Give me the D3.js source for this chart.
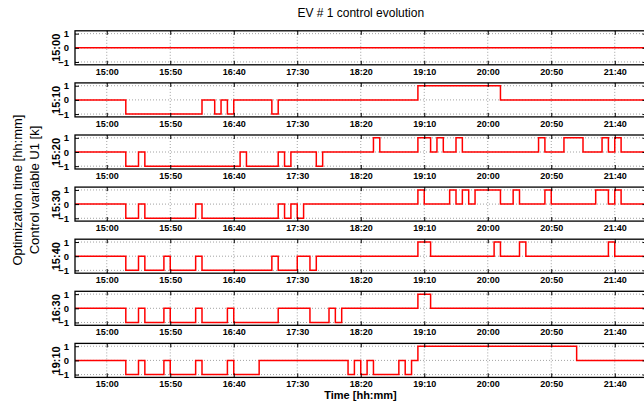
<!DOCTYPE html>
<html>
<head>
<meta charset="utf-8">
<script src="https://cdn.jsdelivr.net/npm/d3@7"></script>
<style>
  html, body { margin: 0; padding: 0; background: #fff; }
  svg { display: block; }
  text { font-family: "Liberation Sans", Arial, Helvetica, sans-serif; }
</style>
</head>
<body>
<svg id="chart" width="644" height="402"></svg>
<script>
// ---------------- DATA ----------------
const chartTitle = "EV # 1 control evolution";
const xAxisTitle = "Time [hh:mm]";
const yAxisTitle1 = "Optimization time [hh:mm]";
const yAxisTitle2 = "Control variable U1 [k]";

const panelLabels = ["15:00", "15:10", "15:20", "15:30", "15:40", "16:30", "19:10"];
const xTickLabels = ["15:00", "15:50", "16:40", "17:30", "18:20", "19:10", "20:00", "20:50", "21:40"];
const yTickValues = [-1, 0, 1];
const yTickLabels = ["\u22121", "0", "1"];
const timeStart = "14:35";
const timeEnd = "22:05";

// change points [time, value] of each control sequence (step function)
const u1_1500 = [["14:35", 0]];
const u1_1510 = [["14:35", 0], ["15:15", -1], ["16:15", 0], ["16:25", -1], ["16:30", 0], ["16:35", -1],
  ["16:40", 0], ["17:10", -1], ["17:15", 0], ["19:05", 1], ["20:10", 0]];
const u1_1520 = [["14:35", 0], ["15:15", -1], ["15:25", 0], ["15:30", -1], ["16:45", 0], ["16:50", -1],
  ["17:15", 0], ["17:20", -1], ["17:25", 0], ["17:45", -1], ["17:50", 0], ["18:30", 1], ["18:35", 0],
  ["19:05", 1], ["19:15", 0], ["19:20", 1], ["19:25", 0], ["19:35", 1], ["19:40", 0], ["20:40", 1],
  ["20:45", 0], ["21:00", 1], ["21:15", 0], ["21:30", 1], ["21:35", 0], ["21:40", 1], ["21:45", 0]];
const u1_1530 = [["14:35", 0], ["15:15", -1], ["15:25", 0], ["15:30", -1], ["16:10", 0], ["16:15", -1],
  ["17:15", 0], ["17:20", -1], ["17:25", 0], ["17:30", -1], ["17:35", 0], ["19:05", 1], ["19:10", 0],
  ["19:30", 1], ["19:35", 0], ["19:40", 1], ["19:45", 0], ["19:50", 1], ["20:10", 0], ["20:20", 1],
  ["20:25", 0], ["20:45", 1], ["20:50", 0], ["21:25", 1], ["21:35", 0], ["21:40", 1], ["21:45", 0]];
const u1_1540 = [["14:35", 0], ["15:15", -1], ["15:25", 0], ["15:30", -1], ["15:45", 0], ["15:50", -1],
  ["16:10", 0], ["16:15", -1], ["17:10", 0], ["17:15", -1], ["17:30", 0], ["17:40", -1], ["17:45", 0],
  ["19:05", 1], ["19:15", 0], ["20:05", 1], ["20:10", 0], ["20:25", 1], ["20:30", 0], ["21:35", 1], ["21:40", 0]];
const u1_1630 = [["14:35", 0], ["15:15", -1], ["15:25", 0], ["15:30", -1], ["15:45", 0], ["15:50", -1],
  ["16:10", 0], ["16:15", -1], ["16:35", 0], ["16:40", -1], ["17:15", 0], ["17:40", -1], ["17:55", 0],
  ["18:00", -1], ["18:05", 0], ["19:05", 1], ["19:15", 0]];
const u1_1910 = [["14:35", 0], ["15:15", -1], ["15:25", 0], ["15:30", -1], ["15:45", 0], ["15:50", -1],
  ["16:10", 0], ["16:15", -1], ["16:35", 0], ["16:40", -1], ["17:00", 0], ["18:10", -1], ["18:15", 0],
  ["18:20", -1], ["18:25", 0], ["18:30", -1], ["18:50", 0], ["18:55", -1], ["19:00", 0], ["19:05", 1], ["21:10", 0]];

const panelSeries = [u1_1500, u1_1510, u1_1520, u1_1530, u1_1540, u1_1630, u1_1910];

// ---------------- LAYOUT ----------------
const toMin = s => { const [h, m] = s.split(":").map(Number); return h * 60 + m; };
const W = 644, H = 402;
const left = 75, right = 646.5;
const firstTop = 30.8, step = 52.1, ph = 34;

const svg = d3.select("#chart");
const x = d3.scaleLinear().domain([toMin(timeStart), toMin(timeEnd)]).range([left, right]);
const tickVals = xTickLabels.map(toMin);

// Title
svg.append("text").attr("x", (left + right) / 2).attr("y", 16.5)
  .attr("text-anchor", "middle").attr("font-size", 12).attr("fill", "#000").text(chartTitle);

// y titles
const yMid = 190;
svg.append("text").attr("transform", `translate(21.5,${yMid}) rotate(-90)`)
  .attr("text-anchor", "middle").attr("font-size", 13).attr("fill", "#000").text(yAxisTitle1);
svg.append("text").attr("transform", `translate(38.5,${yMid}) rotate(-90)`)
  .attr("text-anchor", "middle").attr("font-size", 13).attr("fill", "#000").text(yAxisTitle2);

panelSeries.forEach((series, i) => {
  const top = firstTop + i * step, bottom = top + ph;
  const y = d3.scaleLinear().domain([-1.2, 1.2]).range([bottom, top]);
  const g = svg.append("g");
  const clipId = "clip" + i;
  g.append("clipPath").attr("id", clipId)
    .append("rect").attr("x", left).attr("y", top).attr("width", right - left).attr("height", ph);

  // grid
  const grid = g.append("g").attr("stroke", "#8a8a8a").attr("stroke-width", 0.8)
    .attr("stroke-dasharray", "1,2").attr("fill", "none");
  tickVals.forEach(v => grid.append("line").attr("x1", x(v)).attr("x2", x(v)).attr("y1", top).attr("y2", bottom));
  yTickValues.forEach(v => grid.append("line").attr("x1", left).attr("x2", right).attr("y1", y(v)).attr("y2", y(v)));

  // data line
  const pts = series.map(d => [toMin(d[0]), d[1]]);
  pts.push([toMin(timeEnd), pts[pts.length - 1][1]]);
  const line = d3.line().x(d => x(d[0])).y(d => y(d[1])).curve(d3.curveStepAfter);
  g.append("path").attr("d", line(pts)).attr("fill", "none").attr("stroke", "#ff0000")
    .attr("stroke-width", 1.5).attr("clip-path", `url(#${clipId})`);

  // axes (inward ticks)
  const bottomAxis = d3.axisBottom(x).tickValues(tickVals).tickFormat((d, k) => xTickLabels[k])
    .tickSizeInner(-4).tickSizeOuter(0).tickPadding(3.5);
  const ga = g.append("g").attr("transform", `translate(0,${bottom})`).call(bottomAxis);
  ga.select(".domain").remove();
  ga.selectAll("text").attr("font-size", 9).attr("font-weight", "bold")
    .attr("font-family", "'Liberation Sans', Arial, sans-serif").attr("fill", "#000");
  ga.selectAll("line").attr("stroke", "#000").attr("stroke-width", 1);

  const topAxis = d3.axisTop(x).tickValues(tickVals).tickFormat("").tickSizeInner(-4).tickSizeOuter(0);
  const gt = g.append("g").attr("transform", `translate(0,${top})`).call(topAxis);
  gt.select(".domain").remove();
  gt.selectAll("line").attr("stroke", "#000").attr("stroke-width", 1);

  const leftAxis = d3.axisLeft(y).tickValues(yTickValues).tickFormat((d, k) => yTickLabels[k])
    .tickSizeInner(-4).tickSizeOuter(0).tickPadding(6);
  const gl = g.append("g").attr("transform", `translate(${left},0)`).call(leftAxis);
  gl.select(".domain").remove();
  gl.selectAll("text").attr("font-size", 9.5).attr("font-weight", "bold")
    .attr("font-family", "'Liberation Sans', Arial, sans-serif").attr("fill", "#000");
  gl.selectAll("line").attr("stroke", "#000").attr("stroke-width", 1);

  const rightAxis = d3.axisRight(y).tickValues(yTickValues).tickFormat("").tickSizeInner(-4).tickSizeOuter(0);
  const gr = g.append("g").attr("transform", `translate(${right},0)`).call(rightAxis);
  gr.select(".domain").remove();
  gr.selectAll("line").attr("stroke", "#000").attr("stroke-width", 1);

  // box
  g.append("rect").attr("x", left).attr("y", top).attr("width", right - left).attr("height", ph)
    .attr("fill", "none").attr("stroke", "#000").attr("stroke-width", 1.3);

  // panel label
  g.append("text").attr("transform", `translate(59.5,${(top + bottom) / 2}) rotate(-90)`)
    .attr("text-anchor", "middle").attr("font-size", 11).attr("font-weight", "bold")
    .attr("fill", "#000").text(panelLabels[i]);
});

// x title
svg.append("text").attr("x", 360.5).attr("y", 399).attr("text-anchor", "middle")
  .attr("font-size", 11).attr("font-weight", "bold").attr("fill", "#000").text(xAxisTitle);
</script>
</body>
</html>
